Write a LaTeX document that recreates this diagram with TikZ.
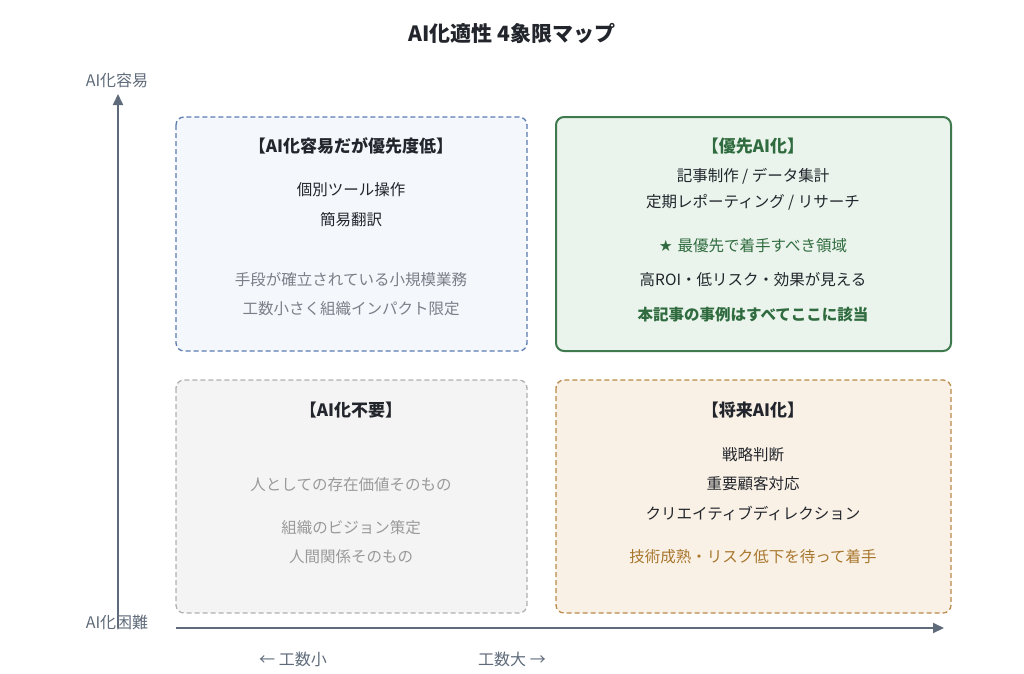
\documentclass[tikz,border=0pt]{standalone}
\usepackage{fontspec}
\setmainfont{Noto Sans CJK JP}
\usetikzlibrary{arrows.meta}
\definecolor{ink}{HTML}{22262C}
\definecolor{axis}{HTML}{5F6B7A}
\definecolor{gbd}{HTML}{3E7A4E}
\definecolor{gfl}{HTML}{EAF4EC}
\definecolor{gtx}{HTML}{2F6B3E}
\definecolor{bbd}{HTML}{5B7BB0}
\definecolor{bfl}{HTML}{F4F7FC}
\definecolor{kbd}{HTML}{B0B0B0}
\definecolor{kfl}{HTML}{F4F4F4}
\definecolor{ktx}{HTML}{9A9A9A}
\definecolor{obd}{HTML}{B98A4A}
\definecolor{ofl}{HTML}{FAF1E6}
\definecolor{otx}{HTML}{A8772E}
\definecolor{mid}{HTML}{7A7F88}
\tikzset{
 quad/.style={rounded corners=8pt, line width=1.3pt},
 dsh/.style={dash pattern=on 5pt off 3pt},
 t/.style={font=\fontsize{15.5}{17}\selectfont, text=ink, anchor=center, inner sep=0},
 hd/.style={t, font=\fontsize{17}{19}\selectfont\bfseries},
 ax/.style={axis, line width=2pt, -{Triangle[length=11pt,width=10pt]}},
 al/.style={t, text=axis, font=\fontsize{16}{18}\selectfont}
}
\begin{document}
\begin{tikzpicture}[x=1pt,y=-1pt]
\useasboundingbox (0,0) rectangle (1024,673);
\node[t, font=\fontsize{21}{23}\selectfont\bfseries] (title) at (512,33) {AI化適性 4象限マップ};
% quadrants
\draw[quad,dsh,draw=bbd,fill=bfl] (176,117) rectangle (527,351);
\draw[quad,draw=gbd,fill=gfl,line width=2pt] (556,117) rectangle (951,351);
\draw[quad,dsh,draw=kbd,fill=kfl] (176,380) rectangle (527,613);
\draw[quad,dsh,draw=obd,fill=ofl] (556,380) rectangle (951,613);
% top-left
\node[hd] (a0) at (351,146) {【AI化容易だが優先度低】};
\node[t] (a1) at (351,190) {個別ツール操作};
\node[t] (a2) at (351,220) {簡易翻訳};
\node[t,text=mid] (a3) at (351,280) {手段が確立されている小規模業務};
\node[t,text=mid] (a4) at (351,309) {工数小さく組織インパクト限定};
% top-right
\node[hd,text=gtx] (b0) at (753,146) {【優先AI化】};
\node[t] (b1) at (753,176) {記事制作 / データ集計};
\node[t] (b2) at (753,202) {定期レポーティング / リサーチ};
\node[t,text=gtx] (b3) at (753,246) {\fontspec{DejaVu Sans}★\ \fontspec{Noto Sans CJK JP}最優先で着手すべき領域};
\node[t] (b4) at (753,280) {高ROI・低リスク・効果が見える};
\node[t,text=gtx,font=\fontsize{15.5}{17}\selectfont\bfseries] (b5) at (753,315) {本記事の事例はすべてここに該当};
% bottom-left
\node[hd] (c0) at (351,410) {【AI化不要】};
\node[t,text=ktx] (c1) at (351,485) {人としての存在価値そのもの};
\node[t,text=ktx] (c2) at (351,528) {組織のビジョン策定};
\node[t,text=ktx] (c3) at (351,557) {人間関係そのもの};
% bottom-right
\node[hd] (d0) at (753,410) {【将来AI化】};
\node[t] (d1) at (753,455) {戦略判断};
\node[t] (d2) at (753,484) {重要顧客対応};
\node[t] (d3) at (753,513) {クリエイティブディレクション};
\node[t,text=otx] (d4) at (753,557) {技術成熟・リスク低下を待って着手};
% axes
\coordinate (o) at (118,628);
\coordinate (ytop) at (118,94);
\coordinate (xs) at (176,628);
\coordinate (xe) at (944,628);
\draw[ax] (o) -- (ytop);
\draw[ax] (xs) -- (xe);
\node[al] (ly1) at (117,80) {AI化容易};
\node[al] (ly2) at (117,622) {AI化困難};
\node[al] (lx1) at (293,659) {← 工数小};
\node[al] (lx2) at (512,659) {工数大 →};
\end{tikzpicture}
\end{document}
